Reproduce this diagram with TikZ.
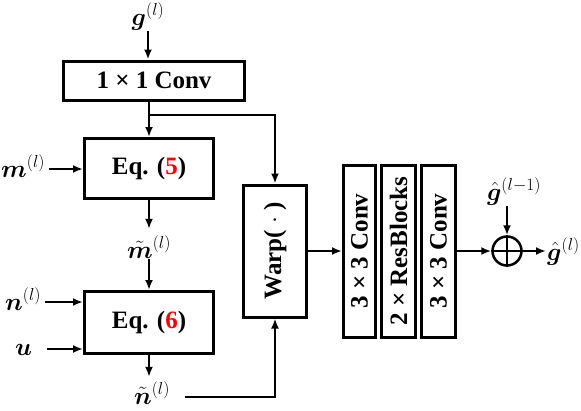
\documentclass[tikz,border=0pt]{standalone}
\usepackage{amsmath}
\usepackage{bm}
\usepackage{fontspec}
\setmainfont{Liberation Serif}
\usetikzlibrary{arrows.meta}
\begin{document}
\begin{tikzpicture}[x=1pt,y=-1pt,
  box/.style={draw,line width=3pt,inner sep=0pt,font=\fontsize{25}{25}\selectfont\bfseries},
  lbl/.style={font=\fontsize{26}{26}\selectfont,inner sep=1pt},
  arr/.style={line width=2pt,-{Latex[length=10pt,width=8pt]}},
  ln/.style={line width=2pt}]
\useasboundingbox (0,0) rectangle (581,410);

% boxes
\node[box,minimum width=181pt,minimum height=39pt] (conv1) at (154,80.5) {1 × 1 Conv};
\node[box,minimum width=129pt,minimum height=60pt] (eq5) at (149,168.5) {Eq. (\textcolor{red}{5})};
\node[box,minimum width=129pt,minimum height=62pt] (eq6) at (149,322.5) {Eq. (\textcolor{red}{6})};
\node[box,minimum width=63pt,minimum height=132pt] (warp) at (275,251) {\rotatebox{90}{Warp( $\cdot$ )}};
\node[box,minimum width=32pt,minimum height=172pt] (c1) at (359.5,251) {\rotatebox{90}{3 × 3 Conv}};
\node[box,minimum width=34pt,minimum height=172pt] (c2) at (398.5,251) {\rotatebox{90}{2 × ResBlocks}};
\node[box,minimum width=34pt,minimum height=172pt] (c3) at (438.5,251) {\rotatebox{90}{3 × 3 Conv}};
\node[circle,draw,line width=2.5pt,minimum size=29pt,inner sep=0pt] (plus) at (507,251) {};
\draw[line width=2.5pt] (plus.north) -- (plus.south) (plus.west) -- (plus.east);

% labels
\node[lbl,anchor=base] (g) at (148,25) {$\bm{g}^{(l)}$};
\node[lbl,anchor=base west] (m) at (0,177) {$\bm{m}^{(l)}$};
\node[lbl,anchor=base] (mt) at (149,258) {$\bm{\tilde{m}}^{(l)}$};
\node[lbl,anchor=base west] (n) at (4,310) {$\bm{n}^{(l)}$};
\node[lbl,anchor=base west] (u) at (14,355) {$\bm{u}$};
\node[lbl,anchor=base] (nt) at (152,404) {$\bm{\tilde{n}}^{(l)}$};
\node[lbl,anchor=base] (gp) at (514,200) {$\bm{\hat{g}}^{(l-1)}$};
\node[lbl,anchor=base west] (gh) at (546,260) {$\bm{\hat{g}}^{(l)}$};

\coordinate (br) at (149,115);
\coordinate (ms) at ([xshift=3pt,yshift=8pt]m.base east);
\coordinate (ns) at ([xshift=3pt,yshift=8pt]n.base east);
\coordinate (us) at ([xshift=14pt,yshift=6pt]u.base east);
\coordinate (nts) at ([xshift=14pt,yshift=7pt]nt.base east);

% connectors
\draw[arr] (g) -- (g |- conv1.north);
\draw[arr] (conv1.south -| eq5) -- (eq5.north);
\draw[arr] (br) -| (warp.north);
\draw[arr,shorten >=6pt] (eq5.south) -- (eq5.south |- mt.north);
\draw[arr] (mt.south -| eq6) -- (eq6.north);
\draw[arr] (ms) -- (ms -| eq5.west);
\draw[arr] (ns) -- (ns -| eq6.west);
\draw[arr] (us) -- (us -| eq6.west);
\draw[arr,shorten >=4pt] (eq6.south) -- (eq6.south |- nt.north);
\draw[arr] (nts) -| (warp.south);
\draw[arr] (warp.east) -- (c1.west);
\draw[arr] (c3.east) -- (plus.west);
\draw[arr] (gp.south -| plus) -- (plus.north);
\draw[arr] (plus.east) -- (gh.west |- plus);
\end{tikzpicture}
\end{document}
